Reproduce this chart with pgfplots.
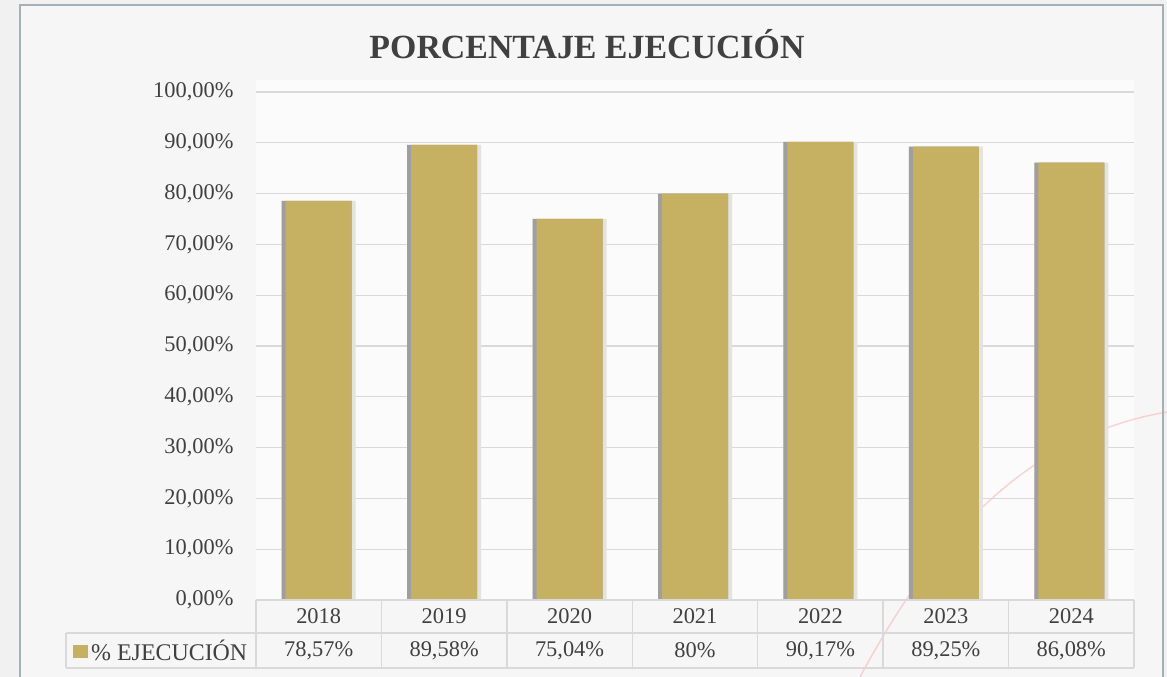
\documentclass[border=0pt]{standalone}
\usepackage{fontspec}
\setmainfont{Liberation Serif}
\usepackage{pgfplots}
\usepackage{pgfplotstable}
\pgfplotsset{compat=1.18}

\definecolor{barfill}{HTML}{C6B062}
\definecolor{txt}{HTML}{404040}
\definecolor{gridc}{HTML}{D9D9D9}
\definecolor{framec}{HTML}{A3B0B5}
\definecolor{bgc}{HTML}{F1F1F1}
\definecolor{innerbg}{HTML}{F6F6F6}
\definecolor{plotbg}{HTML}{FBFBFB}

% execution percentage per year
\pgfplotstableread{
x year value
0 2018 78.57
1 2019 89.58
2 2020 75.04
3 2021 80.00
4 2022 90.17
5 2023 89.25
6 2024 86.08
}\datatable

\begin{document}
\begin{tikzpicture}[font=\fontsize{22.5}{26}\selectfont, text=txt]
\useasboundingbox (0,0) rectangle (1167bp,677bp);
\clip (0,0) rectangle (1167bp,677bp);
\fill[bgc] (0,0) rectangle (1167bp,677bp);
\draw[framec, line width=2bp, fill=innerbg] (20bp,-5bp) rectangle (1163bp,672bp);
\fill[plotbg] (256bp,77bp) rectangle (1134bp,597bp);
\draw[red!40, opacity=.4, line width=1.5bp]
  (860bp,0bp) .. controls (930bp,130bp) and (1020bp,240bp) .. (1167bp,265bp);

\node[font=\bfseries\fontsize{34}{38}\selectfont] at (587bp,633bp) {PORCENTAJE EJECUCIÓN};

\begin{axis}[
    at={(256bp,77bp)}, anchor=south west,
    scale only axis, width=878bp, height=508bp,
    xmin=-0.5, xmax=6.5, ymin=0, ymax=100,
    xtick=\empty, ytick={0,10,...,100},
    ymajorgrids, grid style={gridc, line width=1.2bp},
    axis line style={draw=none},
    major tick length=0pt,
    /pgf/number format/assume math mode=true,
    yticklabel={\pgfmathprintnumber[fixed,fixed zerofill,precision=2,use comma]{\tick}\%},
    yticklabel style={font=\fontsize{22.5}{26}\selectfont, text=txt, xshift=-19bp},
    clip=false,
]
\addplot[ybar, bar width=74bp, bar shift=0pt, fill=gray!22, draw=none]
  table[x=x, y=value] {\datatable};
\addplot[ybar, bar width=70bp, bar shift=-2bp, fill=gray!75, draw=none]
  table[x=x, y=value] {\datatable};
\addplot[ybar, bar width=66bp, bar shift=0pt, fill=barfill, draw=none]
  table[x=x, y=value] {\datatable};
\end{axis}

% data table under the plot
\draw[gridc, line width=1.5bp] (256bp,77bp) -- (1134bp,77bp);
\draw[gridc, line width=1.5bp] (66bp,44bp) -- (1134bp,44bp);
\draw[gridc, line width=1.5bp] (66bp,9bp) -- (1134bp,9bp);
\draw[gridc, line width=1.5bp] (66bp,9bp) -- (66bp,44bp);
\foreach \k in {0,...,7}
  \draw[gridc, line width=1.5bp] (256bp+\k*125.43bp,9bp) -- ++(0,68bp);
\foreach \y [count=\i from 0] in {2018,2019,2020,2021,2022,2023,2024}
  \node at (318.7bp+\i*125.43bp,60.5bp) {\y};
\foreach \v [count=\i from 0] in {{78,57\%},{89,58\%},{75,04\%},{80\%},{90,17\%},{89,25\%},{86,08\%}}
  \node at (318.7bp+\i*125.43bp,26.5bp) {\v};
\fill[barfill] (73bp,19bp) rectangle (88bp,32bp);
\node[anchor=west, inner sep=2bp, font=\fontsize{24}{28}\selectfont] at (89bp,26.5bp) {\% EJECUCIÓN};
\end{tikzpicture}
\end{document}
